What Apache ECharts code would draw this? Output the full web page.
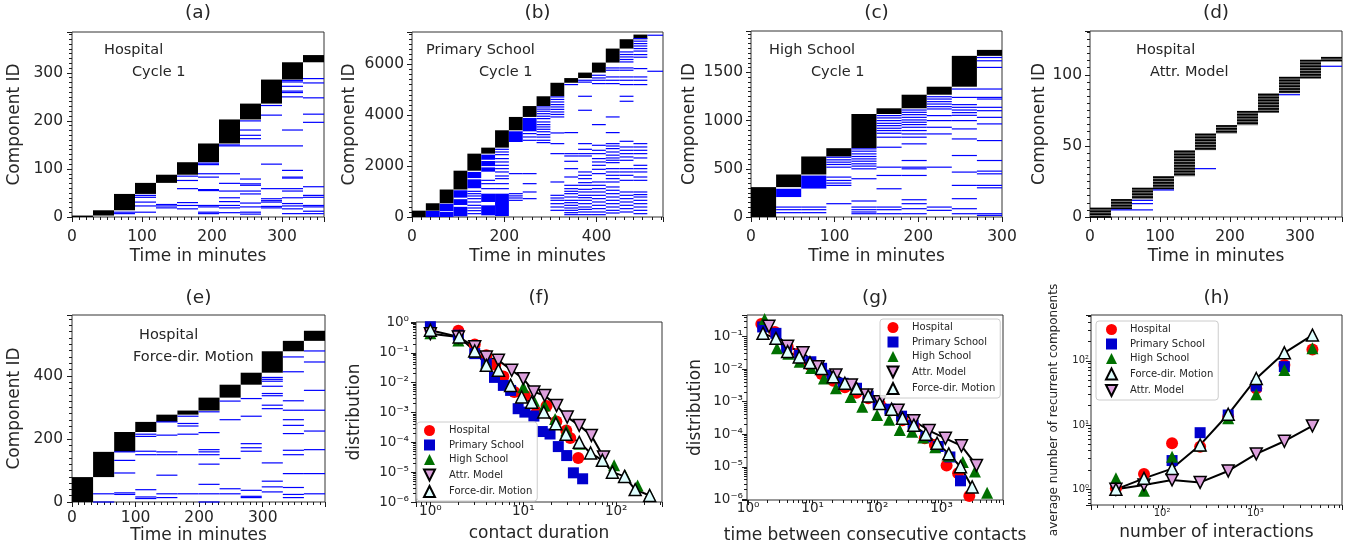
<!DOCTYPE html>
<html>
<head>
<meta charset="utf-8">
<title>Recurrent components</title>
<script src="https://cdn.jsdelivr.net/npm/echarts@6/dist/echarts.min.js"></script>
<style>
  html, body { margin: 0; padding: 0; background: #fff; }
  #chart { width: 1351px; height: 550px; }
</style>
</head>
<body>
<div id="chart"></div>
<script>
const FONT = '"DejaVu Sans", sans-serif';
const INK = "#262626";
const TICK = "#1a1a1a";

// (a)-(e): top component ID reached in each cycle, and IDs of components that recur
// in a later cycle (numbers are single IDs, pairs are dense ranges)
const aTops = [3, 14, 48, 71, 88, 114, 153, 203, 236, 286, 322, 337];
const aBlue = [
  [], [], [10, 7], [45, 41, 31, 23, 10], [26, 23, 19], [85, 76, 59, 30, 24, 17],
  [112, 109, 90, 83, 57, 55, 24, 21, 10, 7],
  [150, 148, 90, 70, 54, 40, 32, 24, 19, 9],
  [200, 181, 170, 163, 148, 79, 69, 66, 54, 48, 29, 21, 10, 6],
  [232, 212, 148, 110, 59, 38, 34, 31, 22, 19],
  [284, 281, 272, 262, 259, 250, 181, 148, 97, 83, 81, 59, 54, 40, 28, 23, 17, 7],
  [288, 279, 248, 214, 197, 63, 45, 41, 24, 21, 12, 7]
];

const bTops = [250, 540, 1080, 1820, 2490, 2726, 3408, 3932, 4360, 4744, 5275, 5460, 5675, 6068, 6619, 6986, 7169];
const bBlue = [
  [],
  [[0, 240]],
  [[0, 200], [230, 520]],
  [[30, 400], [470, 700], [760, 1050]],
  [[1130, 1480], [1530, 1770], 1009, 917, 826, 721, 590, 459, 354, 249, 131],
  [[1780, 1950], [2000, 2200], [2250, 2450], 1441, 1310, 1114, [590, 917], [66, 459]],
  [2660, 2555, 2450, 2294, 2163, 2031, 1900, 1770, 1612, 1507, 1310, 1114, [40, 917]],
  [[2948, 3368], 1704, 917, 830, 747, 655],
  [[3368, 3892], 3277, 3145, 3014, 1704, 1310, 983, 721],
  [4325, 4240, 4155, 4060, 3960, 3866, 3735, 3630, 3540, 3447, 3350, 3237, 3140, 3014, 2923],
  [4718, 4620, 4520, 4417, 4325, 4230, 4128, 4030, 3932, 3303, 2883, 2490, 1376, 852, 747, 655, 524, 393, 262],
  [5203, 3316, 2490, 2398, 2189, 1900, 1572, 1245, 1114, 1010, 917, 786, 655, 563, 459, 354, 262, 170, 92],
  [5373, 5300, 4744, 4194, 2883, 2660, 2490, 2398, 1770, 1638, 1507, 1350, 1245, 1088, 983, 852, 760, 655, 524, 393, 300, 197, 92],
  [5570, 5465, 5373, 5242, 3630, 2818, 2621, 2490, 2294, 2163, 2031, 1874, 1704, 1376, 1245, 1114, 983, 852, 721, 590, 459, 328, 197, 92],
  [5858, 5767, 5504, 5373, 5242, 3932, 3316, 2883, 2790, 2687, 2555, 2430, 2320, 2230, 2136, 1900, 1770, 1638, 1507, 1376, 1180, 1050, 917, 786, 655, 524, 393, 262, 157],
  [6487, 6385, 6290, 6190, 6094, 5858, 5767, 5504, 5373, 5203, 4744, 4548, 2975, 2752, 2621, 2490, 2360, 2228, 1900, 1770, 1638, 1441, 983, 852, 721, 590, 459, 328, 197],
  [7012, 6910, 6815, 6720, 6619, 6520, 6382, 6280, 5832, 5504, 5373, 5203, 2883, 2752, 2621, 2490, 2320, 2031, 1900, 1770, 1572, 1441, 983, 880, 786, 655, 524, 393, 262, 131],
  [7143, 5727]
];

const cTops = [310, 441, 628, 714, 1069, 1128, 1269, 1352, 1672, 1734];
const cBlue = [
  [],
  [[207, 293], 103, 76, 45],
  [[295, 430], 103, 76, 45],
  [620, 593, 569, 545, 517, 414, 379, 352, 328, 138],
  [707, 683, 655, 628, 603, 579, 552, 528, 500, 397, 166, 103, 76, 52, 34],
  [1052, 1028, 1000, 972, 948, 921, 897, 869, 828, 724, 517, 431, 293, 103, 76, 34],
  [1110, 1086, 1062, 1034, 1007, 983, 959, 931, 897, 862, 828, 759, 586, 517, 500, 431, 179, 138, 86, 34],
  [1248, 1224, 1197, 1172, 1145, 1121, 1052, 1000, 931, 862, 517, 103, 69],
  [1328, 1241, 1166, 1138, 1110, 1083, 1055, 1000, 914, 810, 638, 466, 328, 190, 86, 34],
  [1655, 1621, 1552, 1328, 1241, 1224, 1138, 1103, 1034, 966, 793, 586, 476, 448, 328, 303, 34, 17]
];

const dTops = [6, 12.4, 20, 28.6, 47, 58.7, 64.5, 74, 87, 98, 110, 112];
const dBlue = [[], [5], [11.7, 9.4, 5], [19], [], [34], [], [], [], [86], [], [106]];

const eTops = [79, 159, 222, 254, 277, 290, 331, 372, 410, 478, 511, 543];
const eBlue = [
  [], [26, 0], [159, 132, 92, 29, 24], [215, 208, 161, 150, 39, 16, 11],
  [254, 212, 159, 150, 85, 26, 14], [272, 249, 241, 215, 150, 26],
  [286, 220, 166, 159, 150, 120, 56, 26, 0], [320, 261, 138, 42, 26],
  [328, 272, 185, 172, 161, 37, 18, 14],
  [395, 389, 383, 367, 344, 337, 307, 296, 124, 66, 48, 32],
  [460, 413, 321, 291, 261, 243, 217, 164, 150, 90, 46, 24, 14],
  [479, 444, 354, 291, 225, 166, 90, 26]
];

// (f) contact duration distribution
const fHospX = [1, 2, 3, 4, 5, 6.1, 8, 10.4, 13.9, 17.8, 22.7, 29, 32, 39];
const fHospY = [0.6, 0.55, 0.19, 0.083, 0.04, 0.016, 0.0049, 0.0037, 0.001, 0.00165, 5e-4, 2.5e-4, 1.4e-4, 3e-5];
const fPrimX = [1, 2, 3, 4, 4.9, 6.1, 7.3, 8.8, 10.4, 13, 16, 19.4, 23.8, 29.3, 34.6, 43.5];
const fPrimY = [0.75, 0.39, 0.094, 0.043, 0.015, 0.0081, 0.0055, 0.00134, 0.00103, 7.6e-4, 2.3e-4, 1.9e-4, 7.2e-5, 3.6e-5, 9.5e-6, 6e-6];
const fHighX = [1, 2, 3, 4, 5.4, 7.3, 10, 13, 17, 22, 29, 40, 53, 71, 95, 125, 170, 229];
const fHighY = [0.45, 0.26, 0.11, 0.045, 0.028, 0.009, 0.007, 0.0025, 0.0017, 6e-4, 2.5e-4, 9e-5, 4.5e-5, 2.5e-5, 1.7e-5, 7.8e-6, 3.6e-6, 1.8e-6];
const fAttrX = [1, 2, 3, 4, 5.4, 7.5, 10, 13, 17, 22.8, 29.7, 40, 54, 73];
const fAttrY = [0.44, 0.34, 0.16, 0.072, 0.056, 0.026, 0.0136, 0.0049, 0.0037, 0.0017, 7e-4, 3.7e-4, 1.7e-4, 3.2e-5];
const fForceX = [1, 2.04, 3, 4, 5.4, 7.3, 9.6, 12.3, 16.6, 22.4, 28.8, 40, 53, 71, 91, 123, 160, 229];
const fForceY = [0.57, 0.34, 0.115, 0.038, 0.026, 0.0081, 0.0033, 0.0022, 0.00103, 4.2e-4, 1.85e-4, 1.0e-4, 4.4e-5, 2.5e-5, 1.0e-5, 7.2e-6, 2.6e-6, 1.65e-6];

// (g) inter-contact time distribution
const gHospX = [1.6, 2.6, 4.1, 6.2, 9.1, 13.8, 20.9, 31.7, 48, 73, 110, 168, 248, 372, 550, 790, 1200, 1810, 2700];
const gHospY = [0.245, 0.14, 0.049, 0.031, 0.0135, 0.0071, 0.0044, 0.0028, 0.0019, 0.00127, 8.5e-4, 5.5e-4, 2.7e-4, 1.7e-4, 7.5e-5, 4.7e-5, 1.1e-5, 6.3e-6, 1.26e-6];
const gPrimX = [1.68, 2.7, 3.95, 6.3, 9.4, 13.8, 20, 29.8, 48, 73, 104, 158, 240, 363, 571, 890, 1350, 1970];
const gPrimY = [0.2, 0.127, 0.046, 0.027, 0.017, 0.0107, 0.0066, 0.0037, 0.0026, 0.0015, 8.9e-4, 5.9e-4, 3.6e-4, 1.9e-4, 8.3e-5, 4.2e-5, 2.0e-5, 3.7e-6];
const gHighX = [1.8, 2.8, 4.2, 6.3, 9.5, 15, 23, 39, 59, 100, 154, 225, 350, 520, 800, 1300, 2140, 3300, 5100];
const gHighY = [0.35, 0.044, 0.03, 0.017, 0.011, 0.0052, 0.0026, 0.0014, 7e-4, 3.9e-4, 2.8e-4, 1.35e-4, 1.2e-4, 8e-5, 4e-5, 2.2e-5, 1.4e-5, 7.1e-6, 1.6e-6];
const gAttrX = [2.1, 4.1, 7.1, 12.2, 23, 40, 69, 110, 212, 372, 643, 1150, 2040, 3490];
const gAttrY = [0.21, 0.051, 0.032, 0.012, 0.0066, 0.0033, 0.0016, 1e-3, 5.5e-4, 2.6e-4, 1.3e-4, 7.5e-5, 4.4e-5, 1.1e-5];
const gForceX = [1.7, 2.7, 4.1, 6.2, 9.1, 13.8, 20.9, 31.7, 48, 73, 110, 168, 248, 372, 571, 855, 1297, 1970, 2990];
const gForceY = [0.127, 0.089, 0.035, 0.024, 0.016, 0.0106, 0.0059, 0.0037, 0.0026, 0.0015, 8.9e-4, 5.9e-4, 3.1e-4, 1.9e-4, 1.0e-4, 5.3e-5, 2.5e-5, 1.0e-5, 2.4e-6];

// (h) recurrent components vs number of interactions
const hX = [32, 64, 128, 256, 512, 1024, 2048, 4096];
const hHospY = [1.04, 1.73, 5.2, 4.6, 13.5, 37, 86, 150];
const hPrimX = [128, 256, 512, 1024, 2048];
const hPrimY = [2.8, 7.6, 14.3, 40.5, 81];
const hHighY = [1.48, 0.95, 3.2, 4.8, 12.7, 30, 72, 156];
const hForceY = [1.0, 1.48, 2.1, 4.9, 14.7, 53, 133, 251];
const hAttrY = [1.0, 1.17, 1.4, 1.28, 1.93, 3.55, 5.6, 9.7];

const DOWN_TRI = "path://M0,0 L10,0 L5,10 Z";
const legendF = ["Hospital", "Primary School", "High School", { name: "Attr. Model", icon: DOWN_TRI }, "Force-dir. Motion"];
const legendH = ["Hospital", "Primary School", "High School", "Force-dir. Motion", { name: "Attr. Model", icon: DOWN_TRI }];

const HOSP = { symbol: "circle", size: 12, color: "#ff0000" };
const PRIM = { symbol: "rect", size: 11, color: "#0000cd" };
const HIGH = { symbol: "triangle", size: 12, color: "#007000" };
const ATTR = { symbol: "triangle", size: 12, rotate: 180, color: "#dda0dd", border: "#000" };
const FORCE = { symbol: "triangle", size: 12, color: "#e0ffff", border: "#000" };

// ---------------- helpers ----------------
const SUP = { "-": "\u207b", "0": "\u2070", "1": "\u00b9", "2": "\u00b2", "3": "\u00b3", "4": "\u2074", "5": "\u2075", "6": "\u2076", "7": "\u2077", "8": "\u2078", "9": "\u2079" };
function logLabel(v) {
  const e = Math.log10(v);
  const r = Math.round(e);
  if (Math.abs(e - r) > 1e-6) return "";
  return "10" + String(r).split("").map(c => SUP[c]).join("");
}

function cycleEnd(k, cycle, xMax) {
  return (k + 2) * cycle > xMax + 1e-6 ? xMax : (k + 1) * cycle;
}
function blockData(tops, cycle, xMax) {
  return tops.map((hi, k) => [k * cycle, cycleEnd(k, cycle, xMax), k ? tops[k - 1] : 0, hi]);
}
function recurData(blue, cycle, xMax) {
  const out = [];
  blue.forEach((ids, k) => ids.forEach(id => {
    const lo = Array.isArray(id) ? id[0] : id;
    const hi = Array.isArray(id) ? id[1] : id;
    out.push([k * cycle, cycleEnd(k, cycle, xMax), lo, hi]);
  }));
  return out;
}

function renderBlock(params, api) {
  const p0 = api.coord([api.value(0), api.value(3)]);
  const p1 = api.coord([api.value(1), api.value(2)]);
  return { type: "rect", shape: { x: p0[0], y: p0[1], width: p1[0] - p0[0], height: p1[1] - p0[1] }, style: { fill: "#000" } };
}
function renderStriped(params, api) {
  const t0 = api.value(0), t1 = api.value(1), lo = api.value(2), hi = api.value(3);
  const p0 = api.coord([t0, hi]), p1 = api.coord([t1, lo]);
  const children = [{ type: "rect", shape: { x: p0[0], y: p0[1], width: p1[0] - p0[0], height: p1[1] - p0[1] }, style: { fill: "#7a7a7a" } }];
  for (let id = Math.ceil(lo); id <= hi; id++) {
    if (id % 2) continue;
    const py = api.coord([t0, id])[1];
    children.push({ type: "line", shape: { x1: p0[0], y1: py, x2: p1[0], y2: py }, style: { stroke: "#000", lineWidth: 1.7 } });
  }
  return { type: "group", children };
}
function renderRecur(params, api) {
  const p0 = api.coord([api.value(0), api.value(3)]);
  const p1 = api.coord([api.value(1), api.value(2)]);
  const h = Math.max(p1[1] - p0[1], 1.2);
  const y = (p0[1] + p1[1]) / 2 - h / 2;
  return { type: "rect", shape: { x: p0[0], y, width: p1[0] - p0[0], height: h }, style: { fill: "#0000ff" } };
}

function makeAxis(gi, ax, o) {
  const base = {
    gridIndex: gi, min: ax.min, max: ax.max,
    name: o.name, nameLocation: "middle", nameGap: o.gap, nameMoveOverlap: false,
    nameTextStyle: { fontFamily: FONT, fontSize: o.nameSize || 17, color: INK },
    axisLine: { show: false }, splitLine: { show: false },
    axisTick: { show: true, inside: false, length: 5, lineStyle: { color: TICK, width: 1 } },
    minorTick: { show: true, length: 3, lineStyle: { color: TICK, width: 1 } },
    axisLabel: { fontFamily: FONT, fontSize: o.labelSize || 15.5, color: INK, margin: o.margin }
  };
  if (ax.log) {
    base.type = "log";
    base.logBase = 10;
    base.minorTick.splitNumber = 9;
    base.axisLabel.formatter = logLabel;
  } else {
    base.type = "value";
    base.interval = ax.major;
    base.minorTick.splitNumber = Math.round(ax.major / ax.minor);
    base.axisLabel.formatter = v => {
      const r = v / ax.major;
      return Math.abs(r - Math.round(r)) < 1e-6 ? String(Math.round(v)) : "";
    };
  }
  return base;
}

function scatter(gi, name, xs, ys, s) {
  return {
    type: "scatter", name, xAxisIndex: gi, yAxisIndex: gi, silent: true, z: 3,
    data: xs.map((x, i) => [x, ys[i]]),
    symbol: s.symbol, symbolSize: s.size, symbolRotate: s.rotate || 0,
    itemStyle: { color: s.color, borderColor: s.border || s.color, borderWidth: s.border ? 1.5 : 0, opacity: 1 }
  };
}
function fitLine(gi, name, xs, ys) {
  return {
    type: "line", name, xAxisIndex: gi, yAxisIndex: gi, silent: true, z: 3,
    data: xs.map((x, i) => [x, ys[i]]), showSymbol: false, symbol: "none",
    lineStyle: { color: "#000", width: 2 }, itemStyle: { color: "#000" }
  };
}
function legendBox(left, top, names, padLeft, textGap) {
  return {
    orient: "vertical", left, top, data: names, selectedMode: false,
    itemWidth: 11, itemHeight: 11, itemGap: 3.5,
    padding: [3, 5, 3, padLeft], borderColor: "#cccccc", borderWidth: 1, borderRadius: 3,
    backgroundColor: "rgba(255,255,255,0.85)",
    textStyle: { fontFamily: FONT, fontSize: 10, color: INK, lineHeight: 11, padding: [0, 0, 0, textGap] }
  };
}

// ---------------- panels ----------------
const panels = [
  { tag: "(a)", grid: { left: 72, top: 32, width: 252, height: 185 },
    x: { min: 0, max: 360, major: 100, minor: 10 }, y: { min: 0, max: 385, major: 100, minor: 10 },
    xo: { name: "Time in minutes", gap: 31.5, margin: 12 }, yo: { name: "Component ID", gap: 48.5, margin: 9 },
    tops: aTops, blue: aBlue, cycle: 30, notes: [["Hospital", 104, 50], ["Cycle 1", 132, 72]] },
  { tag: "(b)", grid: { left: 412, top: 32, width: 251, height: 185 },
    x: { min: 0, max: 544, major: 200, minor: 20 }, y: { min: 0, max: 7270, major: 2000, minor: 200 },
    xo: { name: "Time in minutes", gap: 31.5, margin: 12 }, yo: { name: "Component ID", gap: 53.5, margin: 8 },
    tops: bTops, blue: bBlue, cycle: 30, notes: [["Primary School", 426, 50], ["Cycle 1", 479, 72]] },
  { tag: "(c)", grid: { left: 751, top: 31, width: 251, height: 186 },
    x: { min: 0, max: 300, major: 100, minor: 10 }, y: { min: 0, max: 1930, major: 500, minor: 50 },
    xo: { name: "Time in minutes", gap: 31.5, margin: 12 }, yo: { name: "Component ID", gap: 52.5, margin: 8 },
    tops: cTops, blue: cBlue, cycle: 30, notes: [["High School", 769, 50], ["Cycle 1", 811, 72]] },
  { tag: "(d)", grid: { left: 1090, top: 31, width: 252, height: 186 },
    x: { min: 0, max: 360, major: 100, minor: 10 }, y: { min: 0, max: 130.8, major: 50, minor: 5 },
    xo: { name: "Time in minutes", gap: 31.5, margin: 12 }, yo: { name: "Component ID", gap: 41.5, margin: 8 },
    tops: dTops, blue: dBlue, cycle: 30, striped: true, notes: [["Hospital", 1136, 50], ["Attr. Model", 1150, 72]] },
  { tag: "(e)", grid: { left: 72, top: 315, width: 253, height: 187 },
    x: { min: 0, max: 398, major: 100, minor: 10 }, y: { min: 0, max: 593, major: 200, minor: 20 },
    xo: { name: "Time in minutes", gap: 25, margin: 8 }, yo: { name: "Component ID", gap: 48.5, margin: 9 },
    tops: eTops, blue: eBlue, cycle: 398 / 12, notes: [["Hospital", 139, 335], ["Force-dir. Motion", 133, 357]] },
  { tag: "(f)", grid: { left: 416, top: 322, width: 246, height: 180 },
    x: { log: true, min: 0.7, max: 311 }, y: { log: true, min: 1e-6, max: 1.08 },
    xo: { name: "contact duration", gap: 23.5, margin: 2, labelSize: 13.5 }, yo: { name: "distribution", gap: 52.5, margin: 7, labelSize: 13.5 },
    sets: [[fHospX, fHospY], [fPrimX, fPrimY], [fHighX, fHighY], [fAttrX, fAttrY], [fForceX, fForceY]],
    legend: legendBox(417, 422, legendF, 6, 9) },
  { tag: "(g)", grid: { left: 747, top: 315, width: 256, height: 185 },
    x: { log: true, min: 0.96, max: 9000 }, y: { log: true, min: 9.5e-7, max: 0.466 },
    xo: { name: "time between consecutive contacts", gap: 27.5, margin: 1, labelSize: 13.5 }, yo: { name: "distribution", gap: 42.5, margin: 4, labelSize: 13.5 },
    sets: [[gHospX, gHospY], [gPrimX, gPrimY], [gHighX, gHighY], [gAttrX, gAttrY], [gForceX, gForceY]],
    legend: legendBox(880, 319, legendF, 6.5, 8.5) },
  { tag: "(h)", grid: { left: 1091, top: 315, width: 251, height: 190 },
    x: { log: true, min: 17.3, max: 8500 }, y: { log: true, min: 0.57, max: 515 },
    xo: { name: "number of interactions", gap: 19.5, margin: 3, labelSize: 10 }, yo: { name: "average number of recurrent components", gap: 31.5, margin: 2, labelSize: 10, nameSize: 12 },
    sets: [[hX, hHospY], [hPrimX, hPrimY], [hX, hHighY], [hX, hAttrY], [hX, hForceY]],
    legend: legendBox(1096, 321, legendH, 9, 8) }
];

const grids = [], xAxes = [], yAxes = [], series = [], legends = [], graphics = [];
panels.forEach((p, gi) => {
  grids.push(Object.assign({ show: true, borderColor: "#333", borderWidth: 1, backgroundColor: "rgba(0,0,0,0)", containLabel: false, outerBoundsMode: "none" }, p.grid));
  xAxes.push(makeAxis(gi, p.x, p.xo));
  yAxes.push(makeAxis(gi, p.y, p.yo));
  if (p.tops) {
    series.push({ type: "custom", xAxisIndex: gi, yAxisIndex: gi, silent: true, z: 2,
      data: blockData(p.tops, p.cycle, p.x.max), renderItem: p.striped ? renderStriped : renderBlock });
    series.push({ type: "custom", xAxisIndex: gi, yAxisIndex: gi, silent: true, z: 3,
      data: recurData(p.blue, p.cycle, p.x.max), renderItem: renderRecur });
    p.notes.forEach(n => graphics.push({ type: "text", x: n[1], y: n[2],
      style: { text: n[0], font: '14.5px "DejaVu Sans"', fill: INK, align: "left", verticalAlign: "middle" } }));
  } else {
    const s = p.sets;
    series.push(scatter(gi, "Hospital", s[0][0], s[0][1], HOSP));
    series.push(scatter(gi, "Primary School", s[1][0], s[1][1], PRIM));
    series.push(scatter(gi, "High School", s[2][0], s[2][1], HIGH));
    series.push(fitLine(gi, "attr-fit-" + gi, s[3][0], s[3][1]));
    series.push(fitLine(gi, "force-fit-" + gi, s[4][0], s[4][1]));
    series.push(scatter(gi, "Attr. Model", s[3][0], s[3][1], ATTR));
    series.push(scatter(gi, "Force-dir. Motion", s[4][0], s[4][1], FORCE));
    legends.push(p.legend);
  }
  graphics.push({ type: "text", x: p.grid.left + p.grid.width / 2, y: gi < 4 ? 13.5 : 298.5,
    style: { text: p.tag, font: '18.5px "DejaVu Sans"', fill: INK, align: "center", verticalAlign: "middle" } });
});

const chart = echarts.init(document.getElementById("chart"), null, { renderer: "canvas" });
chart.setOption({
  animation: false,
  backgroundColor: "#ffffff",
  grid: grids,
  xAxis: xAxes,
  yAxis: yAxes,
  legend: legends,
  graphic: graphics,
  series: series
});
</script>
</body>
</html>
